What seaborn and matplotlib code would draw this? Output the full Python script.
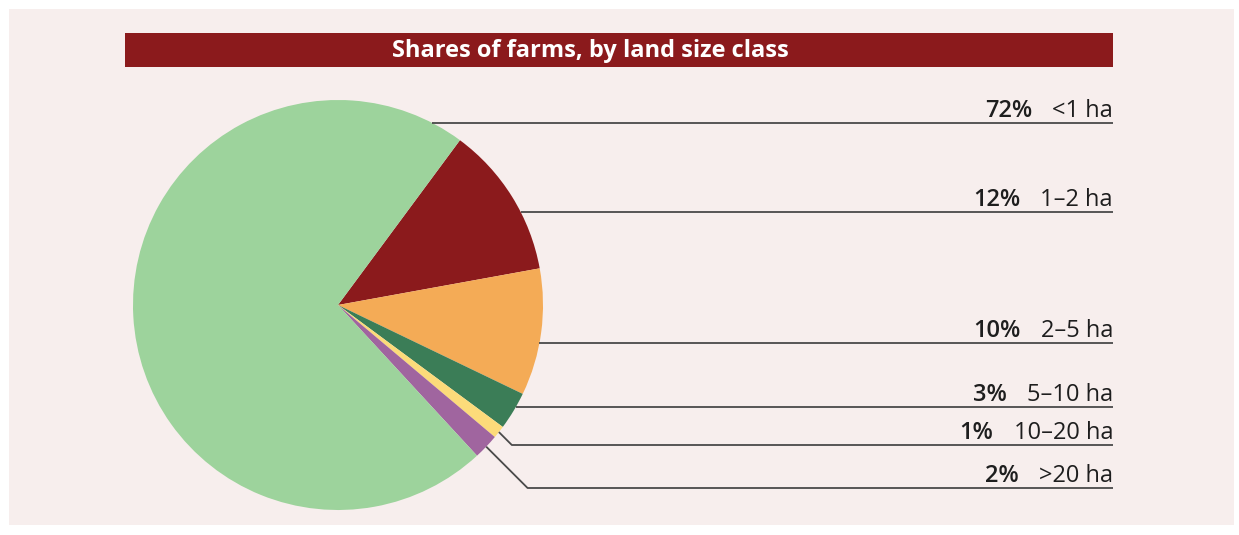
import numpy as np
import matplotlib
matplotlib.use("Agg")
import matplotlib.pyplot as plt
import seaborn as sns
from matplotlib.patches import Rectangle

# ---- data ----
categories = ["1–2 ha", "2–5 ha", "5–10 ha", "10–20 ha", ">20 ha", "<1 ha"]
shares = [12, 10, 3, 1, 2, 72]
title = "Shares of farms, by land size class"

# ---- styles / layout ----
colors = ["#8b1a1c", "#f4ab56", "#3b7d57", "#fcdb7a", "#a0659f", "#9dd39c"]
label_y = [212, 343, 407, 445, 488, 123]   # leader-line rows (pixels from top)

sns.set_theme(style="white")
plt.rcParams["font.family"] = ["Open Sans", "DejaVu Sans"]

W, H = 1239, 535
fig = plt.figure(figsize=(W / 100, H / 100), dpi=100)
fig.patch.set_facecolor("white")
ax = fig.add_axes([0, 0, 1, 1])

cx, cy, r = 338, 305, 205
wedges, _ = ax.pie(shares, colors=colors, startangle=-53.5, counterclock=True,
                   center=(cx, cy), radius=r, frame=True,
                   wedgeprops=dict(linewidth=0))
ax.set_xlim(0, W)
ax.set_ylim(H, 0)
ax.set_aspect("equal")
ax.set_axis_off()

# background panel and title bar
ax.add_patch(Rectangle((9, 9), 1225, 516, facecolor="#f7eeed", edgecolor="none", zorder=-5))
ax.add_patch(Rectangle((125, 33), 988, 34, facecolor="#8b1a1c", edgecolor="none", zorder=1))
ttl = ax.text(590, 51, title, ha="center", va="center", color="white",
              fontsize=16.5, fontweight="bold", zorder=2)
fig.canvas.draw()
tw = ttl.get_window_extent(renderer=fig.canvas.get_renderer()).width
ttl.set_fontsize(16.5 * 396 / tw)

x_end = 1113
line_kw = dict(color="#4a4a4a", lw=1.3, solid_capstyle="butt", zorder=3)
for w, y, cat, val in zip(wedges, label_y, categories, shares):
    t1, t2 = w.theta1, w.theta2
    dy = y - cy
    start = None
    if abs(dy) < r:
        x = cx + np.sqrt(r ** 2 - dy ** 2)
        phi = np.degrees(np.arctan2(dy, x - cx))
        if (phi - t1) % 360 <= (t2 - t1):
            start = (x, y)
    if start is not None:
        ax.plot([start[0], x_end], [y, y], **line_kw)
    else:
        mid = np.radians((t1 + t2) / 2)
        sx, sy = cx + r * np.cos(mid), cy + r * np.sin(mid)
        ex = sx + (y - sy)
        ax.plot([sx, ex, x_end], [sy, y, y], **line_kw)
    lab = ax.text(x_end, y - 6, cat, ha="right", va="baseline", fontsize=17,
                  color="#1e1e1e", zorder=4)
    fig.canvas.draw()
    bb = lab.get_window_extent(renderer=fig.canvas.get_renderer())
    ax.text(bb.x0 - 20, y - 6, f"{val}%", ha="right", va="baseline", fontsize=17,
            fontweight="semibold", color="#1e1e1e", zorder=4)

fig.savefig("out.png", dpi=100, facecolor="white")
